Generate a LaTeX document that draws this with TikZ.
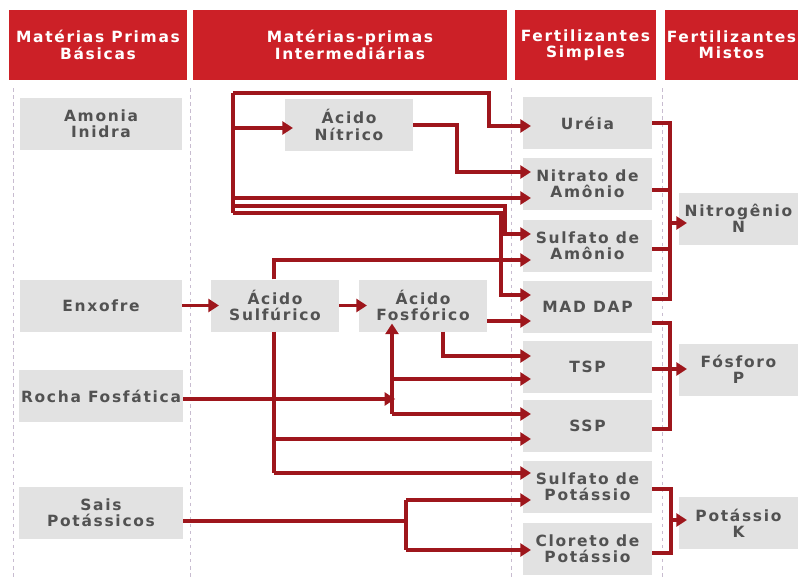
\documentclass[tikz,border=0pt]{standalone}
\usepackage{fontspec}
\setmainfont{DejaVu Sans}
\newfontfamily\boxfont[LetterSpace=11]{DejaVu Sans Bold}
\usetikzlibrary{arrows.meta}
\definecolor{headred}{RGB}{204,32,39}
\definecolor{linered}{RGB}{158,22,28}
\definecolor{boxgray}{RGB}{226,226,226}
\definecolor{txtgray}{RGB}{82,82,82}
\definecolor{sepline}{RGB}{200,188,208}
\begin{document}
\begin{tikzpicture}[x=0.03cm,y=-0.03cm,
  hd/.style={fill=headred, text=white, minimum height=2.1cm, inner sep=0pt, align=center, font={\boxfont\fontsize{13.2}{13.8}\selectfont}},
  bx/.style={fill=boxgray, text=txtgray, minimum height=1.56cm, inner sep=0pt, align=center, font={\boxfont\fontsize{13.2}{13.8}\selectfont}},
  ln/.style={draw=linered, line width=2.8pt},
  fl/.style={ln, -{Triangle[length=9pt,width=11pt]}, shorten >=-7pt},
  sep/.style={draw=sepline, line width=0.8pt, dash pattern=on 3pt off 3pt}]
\useasboundingbox (0,0) rectangle (798,581);

% headers
\node[hd, minimum width=5.34cm] (h1) at (98,45) {Matérias Primas\\Básicas};
\node[hd, minimum width=9.42cm] (h2) at (350,45) {Matérias-primas\\Intermediárias};
\node[hd, minimum width=4.23cm] (h3) at (585.5,45) {Fertilizantes\\Simples};
\node[hd, minimum width=3.99cm] (h4) at (731.5,45) {Fertilizantes\\Mistos};

% column separators
\draw[sep] (13,88) -- (13,578);
\draw[sep] (190,88) -- (190,578);
\draw[sep] (511,88) -- (511,578);
\draw[sep] (662,88) -- (662,578);

% basic raw materials
\node[bx, minimum width=4.86cm] (ami) at (101,124) {Amonia\\Inidra};
\node[bx, minimum width=4.86cm] (enx) at (101,305.5) {Enxofre};
\node[bx, minimum width=4.92cm] (roc) at (101,396) {Rocha Fosfática};
\node[bx, minimum width=4.92cm] (sai) at (101,513) {Sais\\Potássicos};

% intermediate
\node[bx, minimum width=3.84cm] (nit) at (349,125) {Ácido\\Nítrico};
\node[bx, minimum width=3.84cm] (sul) at (275,305.5) {Ácido\\Sulfúrico};
\node[bx, minimum width=3.84cm] (fos) at (423,305.5) {Ácido\\Fosfórico};

% simple fertilizers
\node[bx, minimum width=3.87cm] (ure) at (587.5,123) {Uréia};
\node[bx, minimum width=3.87cm] (nam) at (587.5,184) {Nitrato de\\Amônio};
\node[bx, minimum width=3.87cm] (sam) at (587.5,246) {Sulfato de\\Amônio};
\node[bx, minimum width=3.87cm] (dap) at (587.5,307) {MAD DAP};
\node[bx, minimum width=3.87cm] (tsp) at (587.5,367) {TSP};
\node[bx, minimum width=3.87cm] (ssp) at (587.5,425.5) {SSP};
\node[bx, minimum width=3.87cm] (spo) at (587.5,487) {Sulfato de\\Potássio};
\node[bx, minimum width=3.87cm] (clo) at (587.5,549) {Cloreto de\\Potássio};

% mixed fertilizers
\node[bx, minimum width=3.57cm] (nN) at (738.5,218.5) {Nitrogênio\\N};
\node[bx, minimum width=3.57cm] (nP) at (738.5,369.5) {Fósforo\\P};
\node[bx, minimum width=3.57cm] (nK) at (738.5,523) {Potássio\\K};

% ammonia trunk
\coordinate (t1) at (233,93);
\coordinate (t2) at (233,128);
\coordinate (t3) at (233,198);
\coordinate (t4) at (233,206);
\coordinate (t5) at (233,213);
\coordinate (u1) at (489,126);
\coordinate (n1) at (457,172);
\coordinate (s1) at (505,234);
\coordinate (d1) at (501,295);
\draw[ln] (t1) -- (t5);
\draw[fl] (t1) -| (u1) -- (u1 -| ure.west);
\draw[fl] (t2) -- (t2 -| nit.west);
\draw[fl] (nit.east) -| (n1) -- (n1 -| nam.west);
\draw[fl] (t3) -- (t3 -| nam.west);
\draw[fl] (t4) -| (s1) -- (s1 -| sam.west);
\draw[fl] (t5) -| (d1) -- (d1 -| dap.west);

% sulfur and sulfuric acid
\coordinate (q1) at (274,260);
\coordinate (w1) at (274,439);
\coordinate (w2) at (274,473);
\draw[fl] (enx.east) -- (sul.west);
\draw[fl] (sul.east) -- (fos.west);
\draw[fl] (sul.north -| q1) -- (q1) -- (q1 -| sam.west);
\draw[ln] (sul.south -| w2) -- (w2);
\draw[fl] (w1) -- (w1 -| ssp.west);
\draw[fl] (w2) -- (w2 -| spo.west);

% phosphoric acid
\coordinate (f1) at (487,321);
\coordinate (f2) at (443,356);
\coordinate (v1) at (392,379);
\coordinate (v2) at (392,414);
\coordinate (r1) at (387,399);
\draw[fl] (f1) -- (f1 -| dap.west);
\draw[fl] (fos.south -| f2) -- (f2) -- (f2 -| tsp.west);
\draw[fl] (v2) -- (v2 |- fos.south);
\draw[fl] (v1) -- (v1 -| tsp.west);
\draw[fl] (v2) -- (v2 -| ssp.west);
\draw[fl] (roc.east |- r1) -- (r1);

% potassium salts
\coordinate (k0) at (406,521);
\coordinate (k1) at (406,500);
\coordinate (k2) at (406,550);
\draw[ln] (sai.east |- k0) -- (k0);
\draw[ln] (k1) -- (k2);
\draw[fl] (k1) -- (k1 -| spo.west);
\draw[fl] (k2) -- (k2 -| clo.west);

% nitrogen bracket
\coordinate (nb1) at (670,123);
\coordinate (nb2) at (670,299);
\coordinate (nb3) at (670,190);
\coordinate (nb4) at (670,249);
\coordinate (nb5) at (670,223);
\draw[ln] (nb1 -| ure.east) -- (nb1) -- (nb2) -- (nb2 -| dap.east);
\draw[ln] (nb3 -| nam.east) -- (nb3);
\draw[ln] (nb4 -| sam.east) -- (nb4);
\draw[fl] (nb5) -- (nb5 -| nN.west);

% phosphorus bracket
\coordinate (pb1) at (670,323);
\coordinate (pb2) at (670,429);
\coordinate (pb3) at (670,369);
\draw[ln] (pb1 -| dap.east) -- (pb1) -- (pb2) -- (pb2 -| ssp.east);
\draw[fl] (pb3 -| tsp.east) -- (pb3 -| nP.west);

% potassium bracket
\coordinate (kb1) at (671,489);
\coordinate (kb2) at (671,553);
\coordinate (kb3) at (671,520);
\draw[ln] (kb1 -| spo.east) -- (kb1) -- (kb2) -- (kb2 -| clo.east);
\draw[fl] (kb3) -- (kb3 -| nK.west);

\end{tikzpicture}
\end{document}
